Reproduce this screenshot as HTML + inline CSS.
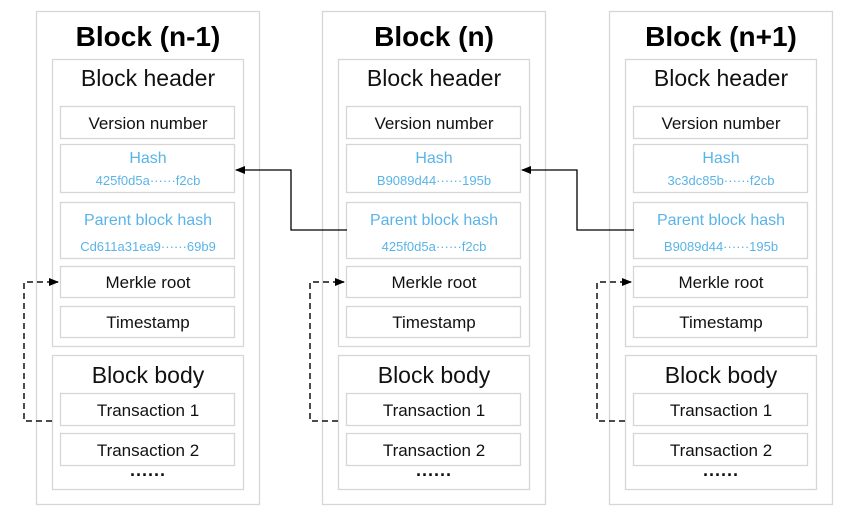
<!DOCTYPE html>
<html><head><meta charset="utf-8"><style>
html,body{margin:0;padding:0;background:#fff;}
svg{display:block;font-family:"Liberation Sans",sans-serif;}
</style></head><body>
<svg width="850" height="512" viewBox="0 0 850 512" xmlns="http://www.w3.org/2000/svg">
<defs>
<marker id="ah" markerWidth="10" markerHeight="8" refX="9" refY="4" orient="auto" markerUnits="userSpaceOnUse">
<path d="M0,0 L10,4 L0,8 z" fill="#000"/>
</marker>
<g id="blk" fill="none" stroke="#d6d6d6" stroke-width="1.3">
<rect x="36.5" y="11.5" width="223" height="493"/>
<rect x="52.5" y="59.5" width="191" height="287"/>
<rect x="52.5" y="355.5" width="191" height="134"/>
<rect x="60.5" y="106.5" width="174" height="32"/>
<rect x="60.5" y="144.5" width="174" height="48"/>
<rect x="60.5" y="202.5" width="174" height="56"/>
<rect x="60.5" y="266.5" width="174" height="31"/>
<rect x="60.5" y="306.5" width="174" height="31"/>
<rect x="60.5" y="393.5" width="174" height="32"/>
<rect x="60.5" y="433.5" width="174" height="32"/>
</g>
<g id="common" text-anchor="middle" fill="#111">
<text x="148" y="86" font-size="23">Block header</text>
<text x="148" y="129" font-size="17">Version number</text>
<text x="148" y="163" font-size="16" fill="#5ab4e8">Hash</text>
<text x="148" y="225" font-size="16" fill="#5ab4e8">Parent block hash</text>
<text x="148" y="288" font-size="17">Merkle root</text>
<text x="148" y="328" font-size="17">Timestamp</text>
<text x="148" y="383" font-size="23">Block body</text>
<text x="148" y="416" font-size="17">Transaction 1</text>
<text x="148" y="456" font-size="17">Transaction 2</text>
<text x="148" y="481" font-size="18" font-weight="bold">······</text>
</g>
<g id="dash" fill="none" stroke="#111" stroke-width="1.5" stroke-dasharray="6,4">
<path d="M52,421 H24 V282 H58" marker-end="url(#ah)"/>
</g>
</defs>

<use href="#blk"/><use href="#common"/><use href="#dash"/>
<use href="#blk" x="286"/><use href="#common" x="286"/><use href="#dash" x="286"/>
<use href="#blk" x="573"/><use href="#common" x="573"/><use href="#dash" x="573"/>

<g text-anchor="middle" font-weight="bold" font-size="28" fill="#000">
<text x="148" y="46">Block (n-1)</text>
<text x="434" y="46">Block (n)</text>
<text x="721" y="46">Block (n+1)</text>
</g>
<g text-anchor="middle" font-size="13" fill="#5ab4e8">
<text x="148" y="185">425f0d5a······f2cb</text>
<text x="148" y="251">Cd611a31ea9······69b9</text>
<text x="434" y="185">B9089d44······195b</text>
<text x="434" y="251">425f0d5a······f2cb</text>
<text x="721" y="185">3c3dc85b······f2cb</text>
<text x="721" y="251">B9089d44······195b</text>
</g>
<g fill="none" stroke="#000" stroke-width="1.3">
<path d="M347,230 H291 V170 H236" marker-end="url(#ah)"/>
<path d="M634,230 H577 V170 H522" marker-end="url(#ah)"/>
</g>
</svg>
</body></html>
